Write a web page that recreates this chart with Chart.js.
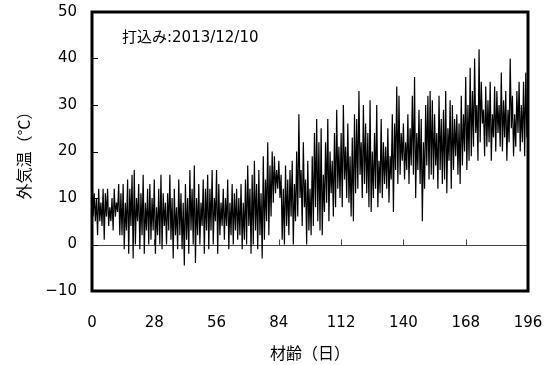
<!DOCTYPE html>
<html><head><meta charset="utf-8">
<script src="https://cdn.jsdelivr.net/npm/chart.js@4"></script>
<style>html,body{margin:0;padding:0;background:#fff;} canvas{display:block;}</style>
</head><body>
<canvas id="c" width="551" height="365"></canvas>
<script>
// daily maximum (at day d) and minimum (at day d + 0.5) outside temperature, °C
const dailyMax = [
  16,11,10,12,9,12,11,12,8,10,12,9,13,11,13,9,14,
  12,15,16,10,13,11,15,9,12,13,10,14,8,12,15,11,9,
  11,15,10,12,8,14,11,9,13,10,16,12,17,10,13,9,14,
  12,15,12,16,10,16,13,9,12,10,14,9,13,11,12,10,13,
  9,14,17,12,15,18,13,16,11,19,14,22,17,20,19,16,18,
  15,12,17,14,16,18,13,20,28,16,22,14,18,12,19,24,27,
  22,25,15,22,27,20,18,24,29,21,24,30,21,26,19,23,28,
  27,33,22,30,26,24,31,20,24,30,18,27,22,21,25,19,28,
  26,34,32,24,26,22,28,25,32,36,24,29,27,22,30,32,33,
  31,28,24,32,27,29,33,25,31,30,27,28,26,32,28,36,30,
  38,33,40,30,42,35,29,34,31,35,28,34,33,30,
  37,31,33,29,40,32,28,33,35,30,35,37
];
const dailyMin = [
  6,5,2,5,4,1,6,4,5,3,6,7,2,2,-1,3,-2,
  4,-3,0,5,-1,2,-2,3,0,1,3,-2,2,0,-1,4,0,
  3,1,-3,2,-1,2,-1,-4.5,1,-2,3,0,-4,2,0,4,-2,
  3,-1,3,0,5,-2,2,4,1,4,-1,2,0,3,1,2,-1,
  1,0,4,-2,0,3,-1,2,-3,1,5,2,6,9,11,12,10,
  1,0,4,2,6,0,5,6,10,4,8,0,3,2,4,8,5,
  3,2,7,9,5,11,6,8,12,10,8,14,10,9,6,5,11,
  12,15,10,13,11,8,7,10,12,8,11,10,13,12,9,14,7,
  16,13,15,18,14,16,13,17,15,10,16,13,5,12,17,14,15,
  14,17,12,16,13,14,11,18,12,16,19,15,13,17,20,16,18,
  19,21,24,18,22,26,19,21,22,18,23,20,24,21,
  20,23,18,22,25,19,21,24,20,22,19,23
];
const xTickValues = [0, 28, 56, 84, 112, 140, 168, 196];
const yTickValues = [-10, 0, 10, 20, 30, 40, 50];
const annotationText = '打込み:2013/12/10';
const xTitle = '材齢（日）';
const yTitle = '外気温（°C）';

const points = [];
dailyMax.forEach((v, d) => {
  points.push({x: d, y: v});
  points.push({x: d + 0.5, y: dailyMin[d]});
});

const frame = {
  id: 'frame',
  beforeDatasetsDraw(chart) {
    const {ctx, chartArea: a, scales: {x, y}} = chart;
    const y0 = Math.round(y.getPixelForValue(0)) + 0.5;
    ctx.save();
    ctx.strokeStyle = '#444';
    ctx.lineWidth = 1;
    ctx.beginPath();
    ctx.moveTo(a.left, y0); ctx.lineTo(a.right, y0);
    xTickValues.forEach(v => {
      const px = Math.round(x.getPixelForValue(v)) + 0.5;
      ctx.moveTo(px, y0); ctx.lineTo(px, y0 - 6);
    });
    ctx.stroke();
    ctx.strokeStyle = '#000';
    ctx.beginPath();
    yTickValues.forEach(v => {
      const py = Math.round(y.getPixelForValue(v)) + 0.5;
      ctx.moveTo(a.left, py); ctx.lineTo(a.left + 6, py);
    });
    ctx.stroke();
    ctx.restore();
  },
  afterDraw(chart) {
    const {ctx, chartArea: a} = chart;
    ctx.save();
    ctx.strokeStyle = '#000';
    ctx.lineWidth = 3;
    ctx.strokeRect(a.left, a.top, a.right - a.left, a.bottom - a.top);
    ctx.fillStyle = '#000';
    ctx.font = '15px "DejaVu Sans", "Noto Sans CJK JP"';
    ctx.textBaseline = 'middle';
    ctx.fillText(annotationText, a.left + 30, a.top + 26);
    ctx.restore();
  }
};

const tickFont = {family: 'DejaVu Sans', size: 15};
const titleFont = {family: 'Noto Sans CJK JP', size: 16};
const noOverflow = s => { s.paddingTop = 0; s.paddingBottom = 0; s.paddingLeft = 0; s.paddingRight = 0; };

new Chart(document.getElementById('c'), {
  type: 'line',
  data: {datasets: [{data: points, borderColor: '#000', borderWidth: 1.2, pointRadius: 0, tension: 0, fill: false}]},
  options: {
    responsive: false, animation: false, devicePixelRatio: 1,
    layout: {padding: {top: 12, right: 23, left: 0, bottom: 0}},
    plugins: {legend: {display: false}, tooltip: {enabled: false}},
    scales: {
      x: {
        type: 'linear', min: 0, max: 196,
        afterBuildTicks: s => { s.ticks = xTickValues.map(v => ({value: v})); },
        ticks: {font: tickFont, color: '#000', padding: 23, maxRotation: 0, autoSkip: false},
        grid: {display: false, drawTicks: false}, border: {display: false},
        title: {display: true, text: xTitle, font: titleFont, color: '#000', padding: {top: 0, bottom: 2.5}},
        afterFit: s => { s.height = 74; noOverflow(s); }
      },
      y: {
        min: -10, max: 50,
        afterBuildTicks: s => { s.ticks = yTickValues.map(v => ({value: v})); },
        ticks: {font: tickFont, color: '#000', padding: 15, callback: v => v < 0 ? '\u2212' + (-v) : '' + v},
        grid: {display: false, drawTicks: false}, border: {display: false},
        title: {display: true, text: yTitle, font: titleFont, color: '#000', padding: {top: 14, bottom: 0}},
        afterFit: s => { s.width = 92; noOverflow(s); }
      }
    }
  },
  plugins: [frame]
});
</script>
</body></html>
